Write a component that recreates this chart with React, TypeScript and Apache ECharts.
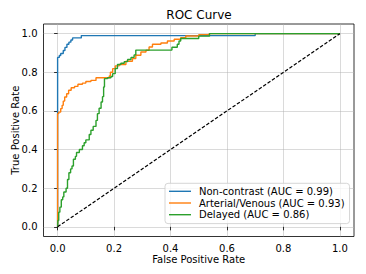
import React, { useEffect, useRef } from "react";
import * as echarts from "echarts";

const FONT = "DejaVu Sans";

const tickValues = [0, 0.2, 0.4, 0.6, 0.8, 1.0];

const seriesNames = [
  "Non-contrast (AUC = 0.99)",
  "Arterial/Venous (AUC = 0.93)",
  "Delayed (AUC = 0.86)",
];
const seriesColors = ["#1f77b4", "#ff7f0e", "#2ca02c"];

// ROC points: at each fpr, tpr rises to the given value
const nonContrastFpr = [0, 0, 0.006, 0.011, 0.02, 0.026, 0.033, 0.04, 0.047, 0.053, 0.084, 0.70, 1.0];
const nonContrastTpr = [0, 0.877, 0.887, 0.897, 0.913, 0.929, 0.945, 0.956, 0.967, 0.978, 0.99, 1.0, 1.0];

const arterialFpr = [0, 0, 0.004, 0.011, 0.016, 0.02, 0.025, 0.032, 0.039, 0.048, 0.06, 0.072, 0.088, 0.1, 0.118, 0.136, 0.183, 0.187, 0.195, 0.204, 0.218, 0.242, 0.265, 0.277, 0.295, 0.313, 0.324, 0.336, 0.366, 0.389, 0.413, 0.436, 0.454, 0.50, 0.537, 1.0];
const arterialTpr = [0, 0.586, 0.594, 0.612, 0.629, 0.651, 0.672, 0.689, 0.707, 0.72, 0.727, 0.738, 0.744, 0.752, 0.758, 0.772, 0.781, 0.80, 0.819, 0.833, 0.84, 0.857, 0.871, 0.888, 0.905, 0.914, 0.931, 0.945, 0.952, 0.962, 0.971, 0.979, 0.988, 0.995, 1.0, 1.0];

const delayedFpr = [0, 0.001, 0.004, 0.008, 0.013, 0.018, 0.022, 0.03, 0.035, 0.04, 0.046, 0.051, 0.056, 0.063, 0.067, 0.077, 0.088, 0.094, 0.1, 0.112, 0.118, 0.126, 0.136, 0.141, 0.147, 0.154, 0.159, 0.163, 0.166, 0.177, 0.189, 0.195, 0.204, 0.212, 0.224, 0.236, 0.248, 0.26, 0.271, 0.277, 0.405, 0.424, 0.43, 0.436, 0.50, 0.538, 1.0];
const delayedTpr = [0, 0.033, 0.076, 0.102, 0.14, 0.155, 0.18, 0.2, 0.245, 0.28, 0.3, 0.315, 0.35, 0.365, 0.385, 0.4, 0.42, 0.435, 0.45, 0.478, 0.5, 0.52, 0.551, 0.586, 0.614, 0.646, 0.674, 0.724, 0.767, 0.772, 0.778, 0.793, 0.82, 0.84, 0.847, 0.855, 0.866, 0.877, 0.89, 0.915, 0.93, 0.945, 0.962, 0.975, 0.987, 1.0, 1.0];

const chanceFpr = [0, 1];
const chanceTpr = [0, 1];

const zip = (xs: number[], ys: number[]) => xs.map((x, i) => [x, ys[i]]);

export default function App() {
  const ref = useRef<HTMLDivElement>(null);
  useEffect(() => {
    document.body.style.margin = "0";
    const chart = echarts.init(ref.current!, null, { renderer: "svg" });
    const curves = [
      zip(nonContrastFpr, nonContrastTpr),
      zip(arterialFpr, arterialTpr),
      zip(delayedFpr, delayedTpr),
    ];
    const axisCommon = {
      type: "value" as const,
      min: -0.05,
      max: 1.05,
      axisLine: { show: false },
      axisTick: {
        show: true,
        inside: false,
        length: 3.5,
        customValues: tickValues,
        lineStyle: { color: "#000", width: 0.8 },
      },
      axisLabel: {
        customValues: tickValues,
        formatter: (v: number) => v.toFixed(1),
        fontFamily: FONT,
        fontSize: 10,
        lineHeight: 11,
        color: "#000",
        margin: 6,
      },
      splitLine: { show: true, lineStyle: { color: "#b0b0b0", width: 0.8, opacity: 0.6 } },
      nameLocation: "middle" as const,
      nameMoveOverlap: false,
      nameTextStyle: { fontFamily: FONT, fontSize: 10, lineHeight: 11, color: "#000" },
    };
    chart.setOption({
      animation: false,
      title: {
        text: "ROC Curve",
        left: 199,
        textAlign: "center",
        top: 9,
        padding: 0,
        textStyle: { fontFamily: FONT, fontSize: 12, fontWeight: "normal", color: "#000" },
      },
      grid: {
        left: 43.5,
        right: 12,
        top: 24,
        bottom: 37.5,
        show: true,
        borderColor: "#000",
        borderWidth: 0.8,
        backgroundColor: "transparent",
      },
      xAxis: { ...axisCommon, name: "False Positive Rate", nameGap: 17.5 },
      yAxis: { ...axisCommon, name: "True Positive Rate", nameGap: 23 },
      legend: {
        orient: "vertical",
        left: 165,
        top: 183.3,
        padding: [2.4, 5, 3.3, 3.3],
        itemGap: 0.5,
        itemWidth: 22,
        itemHeight: 14,
        itemStyle: { opacity: 0 },
        lineStyle: { width: 1.4 },
        backgroundColor: "rgba(255,255,255,0.8)",
        borderColor: "#cccccc",
        borderWidth: 0.8,
        borderRadius: 3,
        textStyle: { fontFamily: FONT, fontSize: 10, color: "#000", padding: [0, 0, 0, 3] },
        data: seriesNames,
      },
      series: [
        ...curves.map((d, i) => ({
          name: seriesNames[i],
          type: "line",
          data: d,
          step: "end",
          symbol: "none",
          showSymbol: false,
          lineStyle: { color: seriesColors[i], width: 1.4 },
          itemStyle: { color: seriesColors[i] },
        })),
        {
          name: "chance",
          type: "line",
          data: zip(chanceFpr, chanceTpr),
          symbol: "none",
          showSymbol: false,
          lineStyle: { color: "#000", width: 1.2, type: [3.5, 1.8] },
        },
      ],
    });
    return () => chart.dispose();
  }, []);
  return <div ref={ref} style={{ width: 366, height: 274 }} />;
}
